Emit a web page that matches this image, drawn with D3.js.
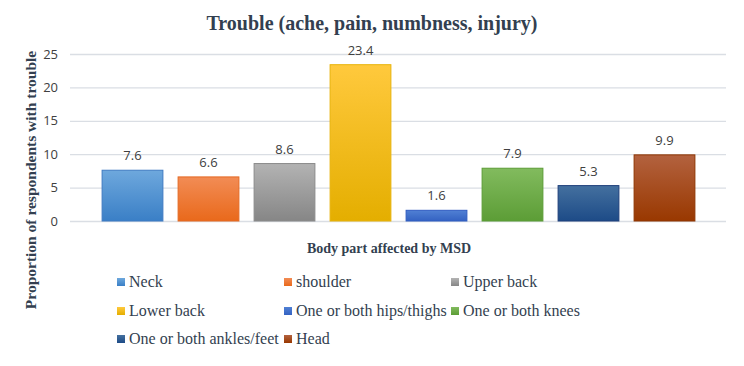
<!DOCTYPE html>
<html>
<head>
<meta charset="utf-8">
<script src="https://cdn.jsdelivr.net/npm/d3@7"></script>
<style>
  body { margin: 0; background: #fff; }
  svg { display: block; }
  .serif { font-family: "Liberation Serif", "Times New Roman", serif; }
</style>
</head>
<body>
<svg id="chart" width="744" height="366"></svg>
<script>
// data
var categories = ["Neck", "shoulder", "Upper back", "Lower back", "One or both hips/thighs",
                  "One or both knees", "One or both ankles/feet", "Head"];
var values = [7.6, 6.6, 8.6, 23.4, 1.6, 7.9, 5.3, 9.9];
var yTicks = [0, 5, 10, 15, 20, 25];
var topColors = ["#6ea8dd", "#f28c55", "#b3b3b3", "#ffc93d", "#5080d4", "#82bb5e", "#44709f", "#b3623f"];
var bottomColors = ["#3a7fc6", "#e9691b", "#868686", "#e4ae00", "#3462c2", "#5c9d36", "#1d4b87", "#993800"];
var strokeColors = ["#3f7bc2", "#e46a24", "#8a8a8a", "#e8b30a", "#2f5cc0", "#5b9c35", "#1f3f7a", "#8e3500"];

var svg = d3.select("#chart");

var x = d3.scaleBand()
  .domain(categories)
  .range([94.5, 702.5])
  .paddingInner(0.2)
  .paddingOuter(0.1);

var y = d3.scaleLinear().domain([0, 25]).range([221, 54]);

// gradients
var defs = svg.append("defs");
categories.forEach(function(c, i) {
  var g = defs.append("linearGradient").attr("id", "g" + i)
    .attr("x1", 0).attr("y1", 0).attr("x2", 0).attr("y2", 1);
  g.append("stop").attr("offset", "0%").attr("stop-color", topColors[i]);
  g.append("stop").attr("offset", "100%").attr("stop-color", bottomColors[i]);
});

// title
svg.append("text")
  .attr("class", "serif")
  .attr("x", 372).attr("y", 30)
  .attr("text-anchor", "middle")
  .style("font-weight", "bold")
  .style("font-size", "20px")
  .style("fill", "#333f50")
  .text("Trouble (ache, pain, numbness, injury)");

// grid + y axis
var yAxis = d3.axisLeft(y).tickValues(yTicks).tickSize(-(726 - 70)).tickPadding(12);
var yg = svg.append("g").attr("transform", "translate(70,0)").call(yAxis);
yg.select(".domain").remove();
yg.selectAll(".tick line").attr("stroke", "#dadee4").attr("stroke-width", 1.3);
yg.selectAll(".tick text")
  .style("font-family", "'Open Sans', 'DejaVu Sans', sans-serif")
  .style("font-size", "13px")
  .style("fill", "#404040");

// bars
svg.selectAll("rect.bar")
  .data(values)
  .enter()
  .append("rect")
  .attr("class", "bar")
  .attr("x", function(d, i) { return x(categories[i]); })
  .attr("y", function(d) { return y(d); })
  .attr("width", x.bandwidth())
  .attr("height", function(d) { return y(0) - y(d); })
  .attr("fill", function(d, i) { return "url(#g" + i + ")"; })
  .attr("stroke", function(d, i) { return strokeColors[i]; })
  .attr("stroke-width", 1);

// value labels
svg.selectAll("text.val")
  .data(values)
  .enter()
  .append("text")
  .attr("class", "val")
  .attr("x", function(d, i) { return x(categories[i]) + x.bandwidth() / 2; })
  .attr("y", function(d) { return y(d) - 10; })
  .attr("text-anchor", "middle")
  .style("font-family", "'Open Sans', 'DejaVu Sans', sans-serif")
  .style("font-size", "13px")
  .style("fill", "#404040")
  .text(function(d) { return d.toFixed(1); });

// axis titles
svg.append("text")
  .attr("class", "serif")
  .attr("x", 389).attr("y", 253)
  .attr("text-anchor", "middle")
  .style("font-weight", "bold")
  .style("font-size", "14px")
  .style("fill", "#333f50")
  .text("Body part affected by MSD");

svg.append("text")
  .attr("class", "serif")
  .attr("transform", "translate(36,180) rotate(-90)")
  .attr("text-anchor", "middle")
  .style("font-weight", "bold")
  .style("font-size", "15.5px")
  .style("fill", "#333f50")
  .text("Proportion of respondents with trouble");

// legend
var colX = [117, 284, 451], rowY = [287, 316, 344];
var leg = svg.selectAll("g.leg")
  .data(categories)
  .enter()
  .append("g")
  .attr("class", "leg")
  .attr("transform", function(d, i) {
    return "translate(" + colX[i % 3] + "," + rowY[Math.floor(i / 3)] + ")";
  });
leg.append("rect")
  .attr("x", 0).attr("y", -9)
  .attr("width", 8).attr("height", 8)
  .attr("fill", function(d, i) { return "url(#g" + i + ")"; });
leg.append("text")
  .attr("class", "serif")
  .attr("x", 12).attr("y", 0)
  .style("font-size", "16px")
  .style("fill", "#333f50")
  .text(function(d) { return d; });
</script>
</body>
</html>
